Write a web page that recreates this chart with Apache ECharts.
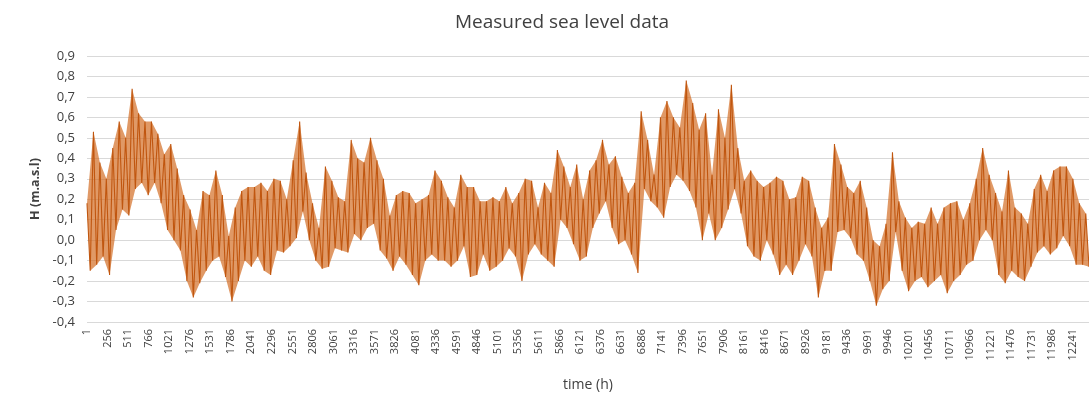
<!DOCTYPE html>
<html>
<head>
<meta charset="utf-8">
<script src="https://cdn.jsdelivr.net/npm/echarts@6/dist/echarts.min.js"></script>
<style>
html,body{margin:0;padding:0;background:#fff;}
#chart{width:1089px;height:406px;}
</style>
</head>
<body>
<div id="chart"></div>
<script>
// Envelope of the hourly sea level record.
// One sample every 80 hours: upper value (hi) then lower value (lo).
const sampleStepHours = 80;
const hiValues = [
 0.18,0.53,0.38,0.30,0.45,0.58,0.50,0.74,0.62,0.58,
 0.58,0.52,0.42,0.47,0.35,0.22,0.15,0.05,0.24,0.22,
 0.34,0.22,0.02,0.16,0.24,0.26,0.26,0.28,0.24,0.30,
 0.29,0.20,0.39,0.58,0.33,0.18,0.06,0.36,0.29,0.21,
 0.19,0.49,0.40,0.38,0.50,0.39,0.30,0.12,0.22,0.24,
 0.23,0.18,0.20,0.22,0.34,0.29,0.21,0.16,0.32,0.26,
 0.26,0.19,0.19,0.21,0.19,0.26,0.18,0.23,0.30,0.29,
 0.16,0.28,0.23,0.44,0.36,0.26,0.37,0.20,0.34,0.39,
 0.49,0.37,0.41,0.31,0.23,0.28,0.63,0.49,0.32,0.60,
 0.68,0.60,0.55,0.78,0.67,0.54,0.62,0.32,0.64,0.50,
 0.76,0.45,0.29,0.34,0.29,0.26,0.28,0.31,0.29,0.20,
 0.21,0.31,0.29,0.16,0.06,0.11,0.47,0.37,0.26,0.23,
 0.29,0.16,0.00,-0.03,0.08,0.43,0.19,0.11,0.06,0.09,
 0.08,0.16,0.08,0.16,0.18,0.19,0.10,0.18,0.30,0.45,
 0.32,0.23,0.14,0.34,0.16,0.13,0.08,0.25,0.32,0.24,
 0.34,0.36,0.36,0.30,0.18,0.13
];
const loValues = [
 -0.15,-0.12,-0.08,-0.17,0.05,0.15,0.12,0.25,0.28,0.22,
 0.28,0.18,0.05,0.00,-0.05,-0.20,-0.28,-0.21,-0.15,-0.10,
 -0.08,-0.18,-0.30,-0.20,-0.10,-0.13,-0.08,-0.15,-0.17,-0.05,
 -0.06,-0.03,0.01,0.14,0.00,-0.10,-0.14,-0.13,-0.04,-0.05,
 -0.06,0.03,0.00,0.06,0.08,-0.05,-0.09,-0.15,-0.08,-0.12,
 -0.17,-0.22,-0.10,-0.07,-0.10,-0.10,-0.13,-0.10,-0.03,-0.18,
 -0.17,-0.07,-0.15,-0.13,-0.10,-0.04,-0.08,-0.20,-0.07,-0.02,
 -0.07,-0.10,-0.13,0.10,0.06,-0.02,-0.10,-0.08,0.06,0.13,
 0.19,0.06,-0.02,0.00,-0.07,-0.16,0.25,0.19,0.16,0.11,
 0.26,0.32,0.29,0.24,0.16,0.00,0.13,0.00,0.06,0.15,
 0.25,0.13,-0.03,-0.08,-0.10,0.00,-0.07,-0.17,-0.12,-0.17,
 -0.10,-0.02,-0.08,-0.28,-0.15,-0.15,0.04,0.05,0.01,-0.07,
 -0.10,-0.20,-0.32,-0.24,-0.20,0.04,-0.15,-0.25,-0.20,-0.18,
 -0.23,-0.20,-0.17,-0.26,-0.20,-0.17,-0.12,-0.10,0.00,0.05,
 0.00,-0.17,-0.21,-0.15,-0.18,-0.20,-0.13,-0.06,-0.03,-0.07,
 -0.04,0.02,-0.03,-0.12,-0.12,-0.13
];
const xTickLabels = [
 '1','256','511','766','1021','1276','1531','1786','2041','2296',
 '2551','2806','3061','3316','3571','3826','4081','4336','4591','4846',
 '5101','5356','5611','5866','6121','6376','6631','6886','7141','7396',
 '7651','7906','8161','8416','8671','8926','9181','9436','9691','9946',
 '10201','10456','10711','10966','11221','11476','11731','11986','12241'
];
const xTickStep = 255;
const xMaxHours = 12440;
const yMin = -0.4, yMax = 0.9, yStep = 0.1;

// zig-zag trace through the envelope samples
const trace = [];
// band between lower and upper envelope: polygon through hi points then lo points back
const bandHi = [];
const bandLo = [];
for (let i = 0; i < hiValues.length; i++) {
  const t = i * sampleStepHours;
  trace.push([t, hiValues[i]]);
  trace.push([t + sampleStepHours / 2, loValues[i]]);
  bandHi.push([t, hiValues[i]]);
  bandLo.push([t + sampleStepHours / 2, loValues[i]]);
}

const FONT = 'Open Sans';
const LINE = '#C0560F';
const chart = echarts.init(document.getElementById('chart'), null, {renderer: 'canvas'});
chart.setOption({
  animation: false,
  backgroundColor: '#ffffff',
  title: {
    text: 'Measured sea level data',
    left: 557,
    textAlign: 'center',
    top: 8,
    textStyle: {fontFamily: FONT, fontSize: 19, fontWeight: 'normal', color: '#404040'}
  },
  grid: {left: 87, right: 0, top: 56, bottom: 84, containLabel: false},
  xAxis: {
    type: 'value',
    min: 0,
    max: xMaxHours,
    interval: xTickStep,
    name: 'time (h)',
    nameLocation: 'middle',
    nameGap: 56,
    nameTextStyle: {fontFamily: FONT, fontSize: 14, color: '#404040'},
    axisLine: {show: false},
    axisTick: {show: false},
    splitLine: {show: false},
    axisLabel: {
      rotate: 90,
      margin: 7,
      fontFamily: FONT,
      fontSize: 11,
      color: '#404040',
      showMaxLabel: false,
      formatter: function (v) {
        const k = v / xTickStep;
        return Number.isInteger(k) && k < xTickLabels.length ? xTickLabels[k] : '';
      }
    }
  },
  yAxis: {
    type: 'value',
    min: yMin,
    max: yMax,
    interval: yStep,
    name: 'H (m.a.s.l)',
    nameLocation: 'middle',
    nameRotate: 90,
    nameGap: 43,
    nameTextStyle: {fontFamily: FONT, fontSize: 12.5, fontWeight: 'bold', color: '#404040'},
    axisLine: {show: false},
    axisTick: {show: false},
    splitLine: {show: true, lineStyle: {color: '#d9d9d9', width: 1}},
    axisLabel: {
      margin: 12,
      fontFamily: FONT,
      fontSize: 13,
      color: '#404040',
      formatter: function (v) { return v.toFixed(1).replace('.', ','); }
    }
  },
  series: [
    {
      type: 'custom',
      silent: true,
      z: 1,
      data: [0],
      renderItem: function (params, api) {
        const pts = [];
        for (let i = 0; i < bandHi.length; i++) pts.push(api.coord(bandHi[i]));
        for (let i = bandLo.length - 1; i >= 0; i--) pts.push(api.coord(bandLo[i]));
        return {
          type: 'polygon',
          shape: {points: pts},
          style: {fill: '#D2691E', opacity: 0.68}
        };
      }
    },
    {
      type: 'line',
      data: trace,
      showSymbol: false,
      symbol: 'none',
      sampling: null,
      lineStyle: {color: LINE, width: 1.1},
      itemStyle: {color: LINE},
      z: 2
    }
  ]
});
</script>
</body>
</html>
